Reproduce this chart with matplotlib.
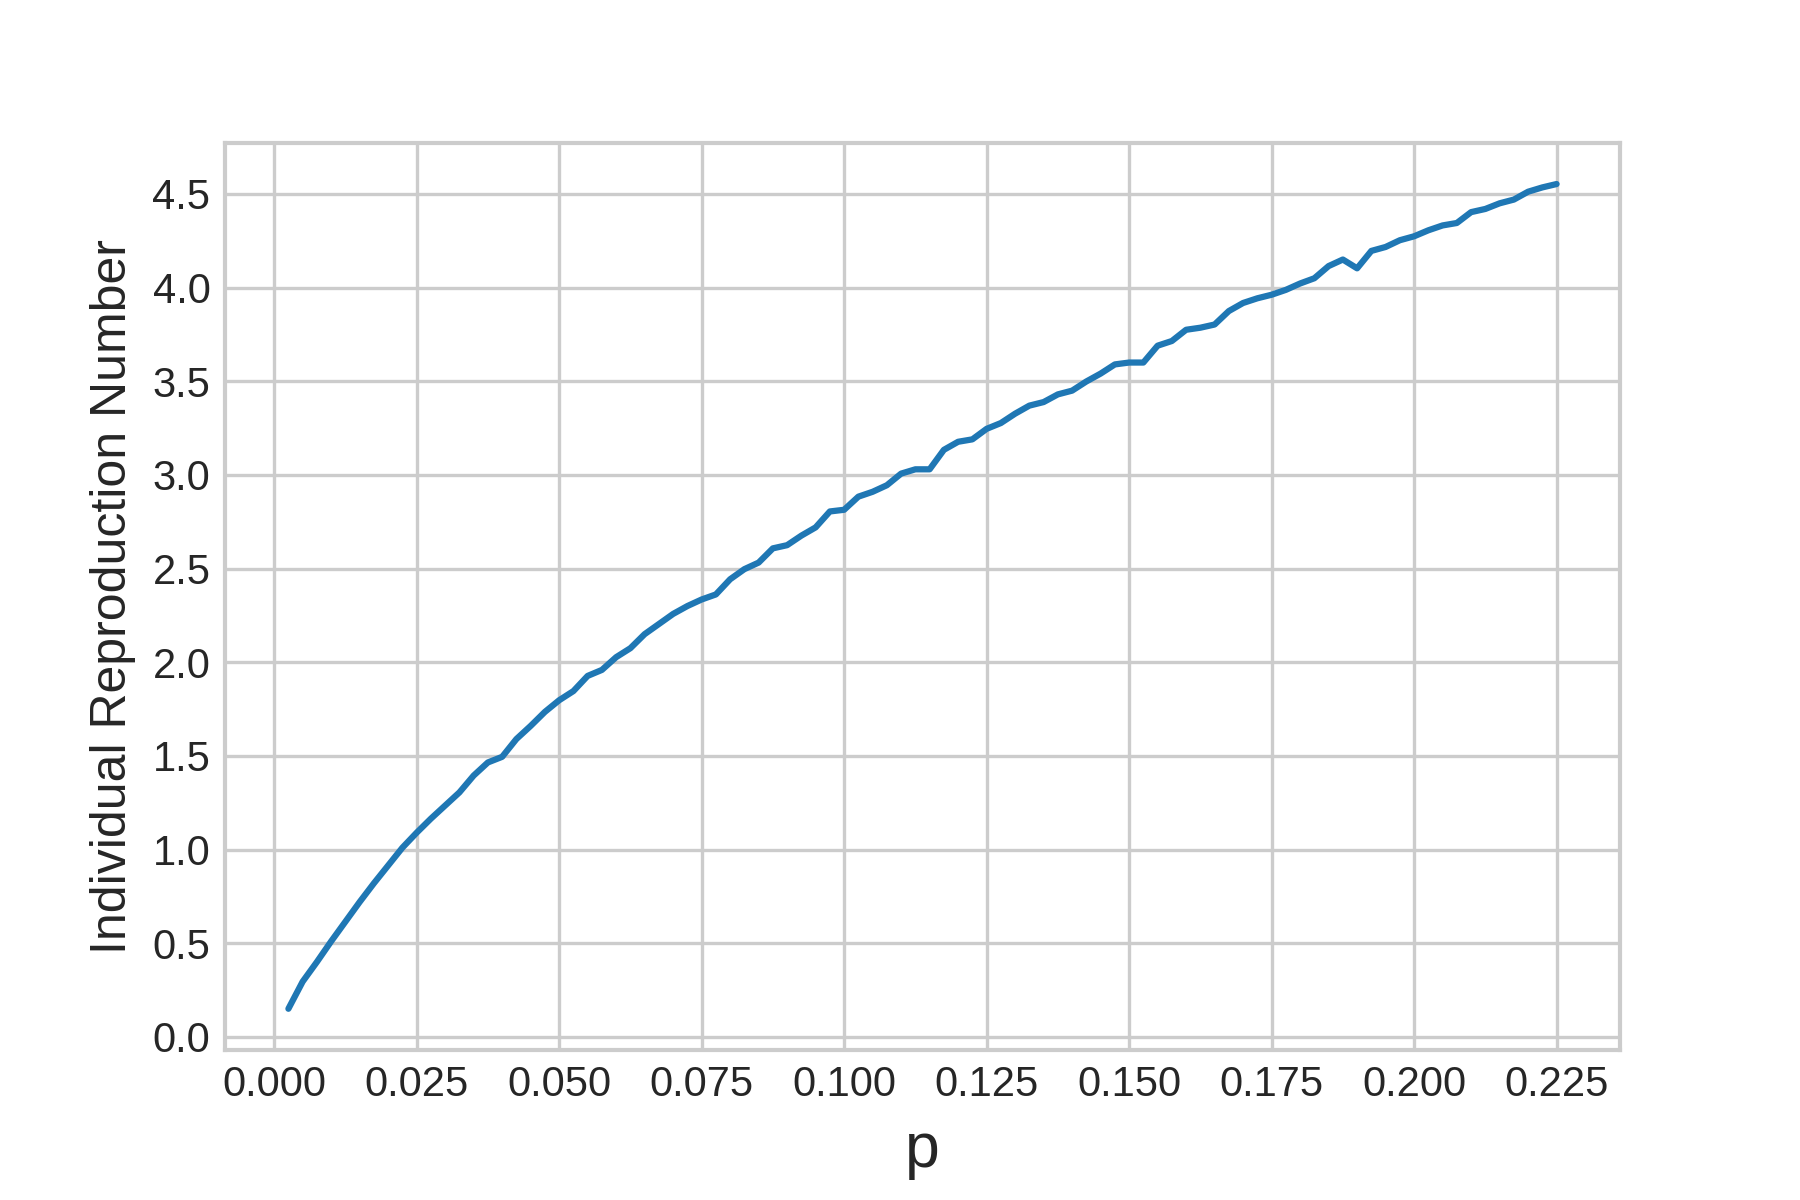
import numpy as np
import matplotlib
matplotlib.use("Agg")
import matplotlib.pyplot as plt
from matplotlib.ticker import MultipleLocator

plt.style.use("seaborn-v0_8-whitegrid")
plt.rcParams["font.sans-serif"] = ["Arial", "Liberation Sans", "DejaVu Sans"]

# p grid: 0.0025 .. 0.225 in steps of 0.0025 (90 points)
p = np.round(np.arange(1, 91) * 0.0025, 4)

# individual reproduction number
R = [0.15, 0.295, 0.40, 0.51, 0.615, 0.72, 0.82, 0.915, 1.01, 1.09,
     1.165, 1.235, 1.305, 1.395, 1.465, 1.495, 1.59, 1.66, 1.735, 1.797,
     1.846, 1.927, 1.959, 2.027, 2.075, 2.15, 2.204, 2.258, 2.30, 2.335,
     2.362, 2.443, 2.497, 2.532, 2.608, 2.625, 2.676, 2.72, 2.805, 2.814,
     2.884, 2.91, 2.945, 3.007, 3.03, 3.03, 3.134, 3.177, 3.19, 3.246,
     3.277, 3.327, 3.37, 3.389, 3.43, 3.45, 3.499, 3.541, 3.59, 3.60,
     3.60, 3.69, 3.715, 3.775, 3.786, 3.803, 3.875, 3.918, 3.943, 3.962,
     3.988, 4.022, 4.05, 4.115, 4.15, 4.103, 4.196, 4.217, 4.253, 4.274,
     4.306, 4.332, 4.345, 4.403, 4.42, 4.45, 4.47, 4.512, 4.535, 4.553]

fig = plt.figure(figsize=(6, 4), dpi=300)
ax = fig.add_axes([0.125, 0.125, 0.775, 0.756])
ax.plot(p, R, color="#1f77b4", linewidth=1.5)

ax.xaxis.set_major_locator(MultipleLocator(0.025))
ax.yaxis.set_major_locator(MultipleLocator(0.5))
ax.set_xlabel("p", fontsize=15)
ax.set_ylabel("Individual Reproduction Number", fontsize=12)
ax.tick_params(labelsize=10)

fig.savefig("out.png", dpi=300)
